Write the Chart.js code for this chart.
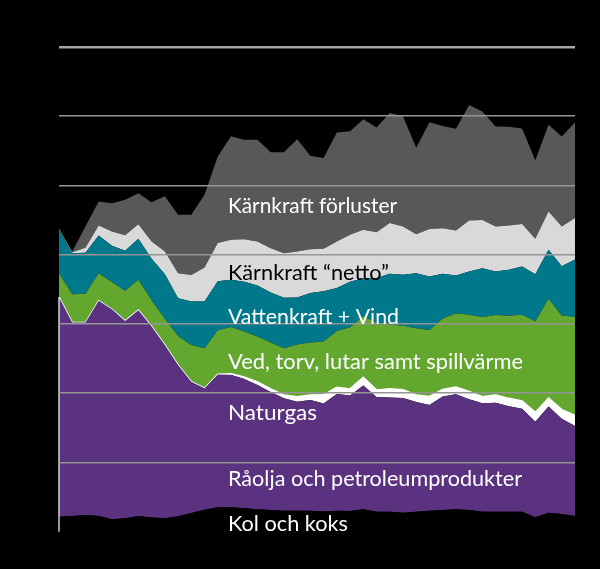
<!DOCTYPE html>
<html>
<head>
<meta charset="utf-8">
<script src="https://cdn.jsdelivr.net/npm/chart.js@4.4.1/dist/chart.umd.min.js"></script>
<style>
  html, body { margin: 0; padding: 0; background: #000; }
  #wrap { width: 600px; height: 569px; }
</style>
</head>
<body>
<div id="wrap"><canvas id="c" width="600" height="569"></canvas></div>
<script>
// ---- Data (TWh) ----
const years = [];
for (let y = 1970; y <= 2009; y++) years.push(String(y));

const coal = [21.5,22.7,24.1,22.7,18.1,19.4,22.7,20.5,19.4,22.3,27.0,31.8,35.3,35.3,33.8,32.4,31.4,30.3,30.3,30.3,29.2,30.3,29.9,32.4,28.9,28.9,27.5,28.9,30.3,31.4,32.4,31.4,28.9,28.9,28.9,28.9,20.8,27.5,25.6,22.7];
const oil = [317.2,279.3,277.9,310.7,303.0,285.0,297.2,275.7,250.4,218.6,189.7,175.4,191.9,191.2,186.8,179.6,170.5,162.4,157.5,160.0,156.1,168.6,166.9,178.9,165.7,165.0,165.7,158.5,152.7,163.7,166.2,160.0,156.6,157.5,152.3,148.7,138.1,153.2,137.6,130.1];
const gas = [0,0,0,0,0,0,0,0,0,0,0,0,0,1.4,2.9,4.3,4.3,4.8,7.2,7.2,12.3,9.7,9.4,11.8,10.1,12.3,11.6,10.1,12.3,10.4,10.1,11.0,9.5,11.1,11.3,11.3,13.3,12.1,13.1,15.2];
const wood = [34.4,41.0,41.8,40.0,39.4,43.6,43.8,37.9,37.6,41.9,53.0,57.8,63.6,67.6,65.5,65.5,66.9,67.5,75.4,75.6,77.0,81.4,88.9,87.9,96.8,93.2,92.5,96.4,96.1,102.3,106.9,110.8,115.2,115.6,119.2,124.3,131.9,143.5,136.1,142.3];
const hydro = [62.9,59.2,59.0,54.2,52.6,57.8,59.2,60.0,64.3,54.5,62.6,67.3,70.8,68.2,71.8,73.6,72.5,72.7,67.9,71.8,72.8,62.1,65.7,54.9,65.0,73.0,73.7,79.2,77.3,64.6,54.3,62.6,70.4,62.6,66.5,69.8,67.8,70.8,70.8,82.8];
const nuclearNet = [0.7,1.4,7.2,14.6,20.4,22.5,21.2,25.0,32.9,36.1,38.6,49.1,55.2,57.8,61.4,63.7,63.9,64.6,66.2,63.1,61.1,66.9,67.9,70.1,66.0,73.3,69.8,56.6,68.6,66.0,65.0,73.7,69.4,65.0,64.0,61.3,51.0,55.3,57.5,59.8];
const nuclearLoss = [1.7,0.9,30.8,34.7,41.0,51.2,44.8,56.6,79.8,84.2,86.7,105.1,125.1,149.6,143.8,147.0,138.4,145.7,162.4,134.8,131.1,157.5,149.6,159.7,151.4,159.0,159.1,124.7,153.9,147.4,147.0,166.9,156.9,144.5,142.6,138.0,113.7,125.3,130.1,138.1];

const yTicks = [0,100,200,300,400,500,600,700];

const seriesNames = ["Kol och koks","Råolja och petroleumprodukter","Naturgas","Ved, torv, lutar samt spillvärme","Vattenkraft + Vind","Kärnkraft “netto”","Kärnkraft förluster"];

// ---- Styling ----
const colors = {
  coal: '#000000',
  oil: '#5b3280',
  gas: '#ffffff',
  wood: '#63a72f',
  hydro: '#00788b',
  net: '#d9d9d9',
  loss: '#585858'
};

function ds(label, data, color, fill, border) {
  return {
    label, data,
    backgroundColor: color,
    borderColor: border ? border.color : color,
    borderWidth: border ? border.width : 0,
    fill: fill,
    pointRadius: 0,
    tension: 0
  };
}

// thin white edge on the left of the fossil-fuel block, as in the reference
const edgePlugin = {
  id: 'leftEdge',
  afterDatasetsDraw(chart) {
    const ctx = chart.ctx;
    const ys = chart.scales.y;
    const xs = chart.scales.x;
    const x = xs.getPixelForValue(0);
    const yTop = ys.getPixelForValue(coal[0] + oil[0]);
    const yBot = ys.getPixelForValue(0);
    ctx.save();
    ctx.strokeStyle = '#ffffff';
    ctx.lineWidth = 1.2;
    ctx.beginPath();
    ctx.moveTo(x, yTop);
    ctx.lineTo(x, yBot);
    ctx.stroke();
    ctx.restore();
  }
};

const labelPlugin = {
  id: 'areaLabels',
  afterDraw(chart) {
    const ctx = chart.ctx;
    const items = [
      { t: seriesNames[6], x: 228, y: 212.5, w: 169, c: '#ffffff' },
      { t: seriesNames[5], x: 228, y: 279.5, w: 161, c: '#000000' },
      { t: seriesNames[4], x: 228, y: 323.5, w: 171, c: '#ffffff' },
      { t: seriesNames[3], x: 228, y: 368.5, w: 295, c: '#ffffff' },
      { t: seriesNames[2], x: 228, y: 419.5, w: 89, c: '#ffffff' },
      { t: seriesNames[1], x: 228, y: 486, w: 294, c: '#ffffff' },
      { t: seriesNames[0], x: 228, y: 530.5, w: 120, c: '#ffffff' }
    ];
    ctx.save();
    ctx.font = '21.5px Lato, "Open Sans", sans-serif';
    ctx.textBaseline = 'alphabetic';
    ctx.textAlign = 'left';
    for (const it of items) {
      const m = ctx.measureText(it.t).width;
      ctx.save();
      ctx.translate(it.x, it.y);
      ctx.scale(it.w / m, 1);
      ctx.fillStyle = it.c;
      ctx.fillText(it.t, 0, 0);
      ctx.restore();
    }
    ctx.restore();
  }
};

new Chart(document.getElementById('c'), {
  type: 'line',
  data: {
    labels: years,
    datasets: [
      ds(seriesNames[0], coal, colors.coal, 'origin'),
      ds(seriesNames[1], oil, colors.oil, '-1'),
      ds(seriesNames[2], gas, colors.gas, '-1', { color: '#ffffff', width: 1.6 }),
      ds(seriesNames[3], wood, colors.wood, '-1'),
      ds(seriesNames[4], hydro, colors.hydro, '-1'),
      ds(seriesNames[5], nuclearNet, colors.net, '-1'),
      ds(seriesNames[6], nuclearLoss, colors.loss, '-1')
    ]
  },
  options: {
    responsive: false,
    animation: false,
    events: [],
    layout: { padding: { left: 59, right: 25, top: 47, bottom: 37.3 } },
    plugins: { legend: { display: false }, tooltip: { enabled: false } },
    scales: {
      x: {
        type: 'category',
        offset: false,
        ticks: { display: false },
        grid: { display: false, drawTicks: false },
        border: { display: false },
        afterFit: s => { s.height = 0; }
      },
      y: {
        stacked: true,
        min: 0, max: 700,
        afterBuildTicks: s => { s.ticks = yTicks.map(v => ({ value: v })); },
        ticks: { display: false },
        border: { display: false },
        grid: {
          z: 1,
          drawTicks: false,
          color: c => c.tick && c.tick.value === 0 ? 'rgba(0,0,0,0)' : (c.tick && c.tick.value === 700 ? '#a6a6a6' : '#959595'),
          lineWidth: c => c.tick && c.tick.value === 700 ? 2.4 : 1.5
        },
        afterFit: s => { s.width = 0; }
      }
    }
  },
  plugins: [edgePlugin, labelPlugin]
});
</script>
</body>
</html>
